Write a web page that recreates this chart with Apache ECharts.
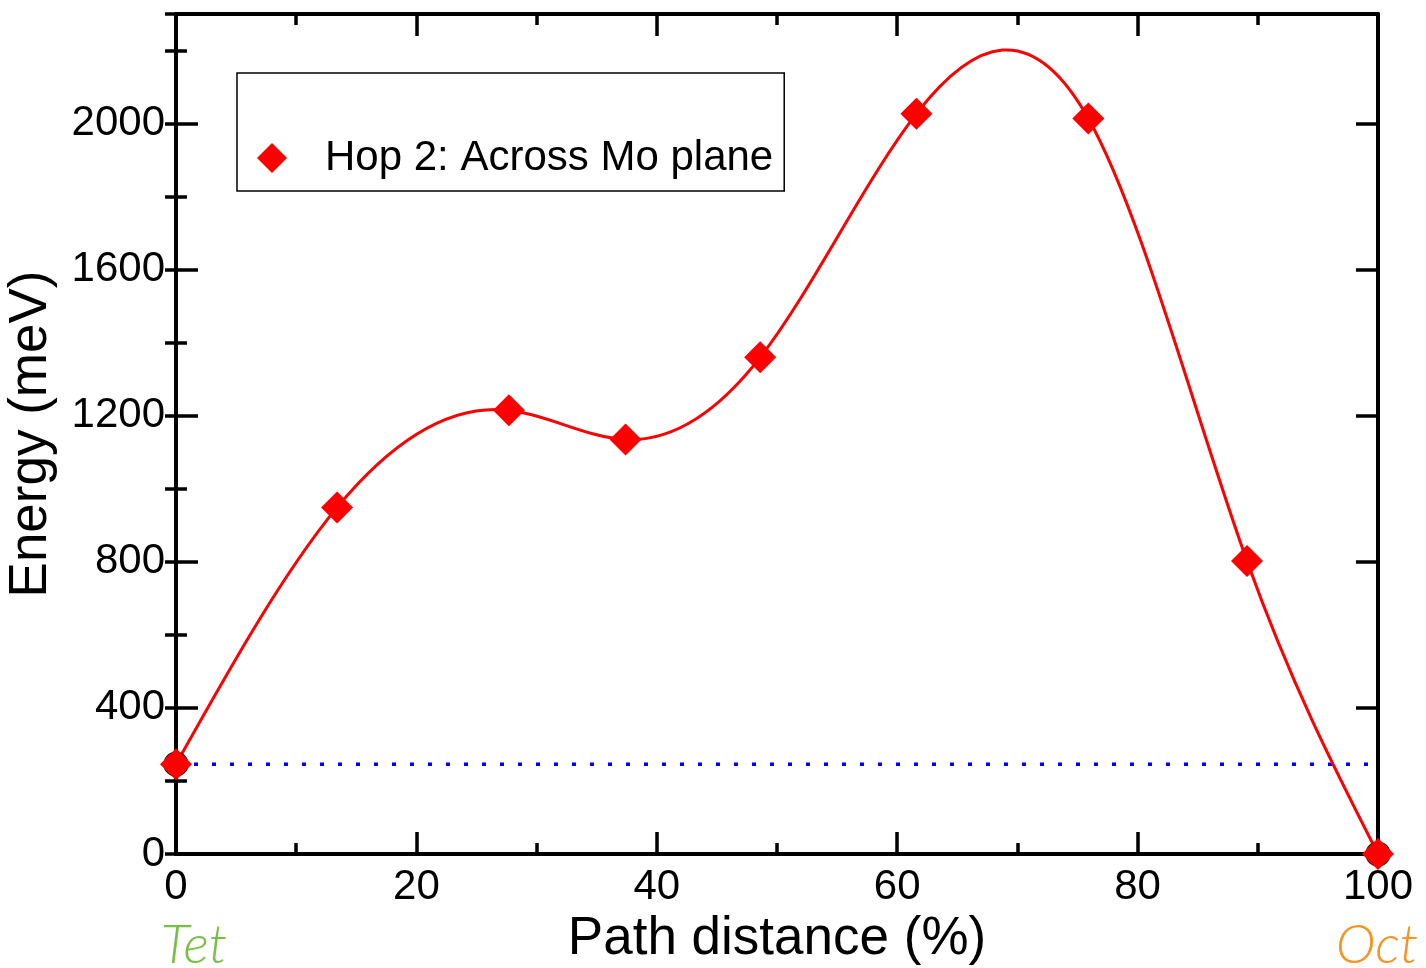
<!DOCTYPE html>
<html>
<head>
<meta charset="utf-8">
<script src="https://cdn.jsdelivr.net/npm/echarts@6/dist/echarts.min.js"></script>
<style>html,body{margin:0;padding:0;background:#fff;}#c{width:1426px;height:968px;}</style>
</head>
<body>
<div id="c"></div>
<script>
// ---- data ----
const pathDistance = [0, 13.4, 27.7, 37.4, 48.6, 61.6, 75.9, 89.1, 100];
const energy = [246, 949, 1215, 1135, 1360, 2027, 2014, 802, 0];
const referenceEnergy = 246;
const seriesName = 'Hop 2: Across Mo plane';
const xTitle = 'Path distance (%)';
const yTitle = 'Energy (meV)';
const startLabel = 'Tet';
const endLabel = 'Oct';

const FONT = '"Liberation Sans", Arial, Helvetica, sans-serif';

// natural cubic spline slopes (data space) -> bezier control points mapped through axes
function splineSlopes(xs, ys) {
  const n = xs.length;
  const h = [], a = [], b = [], c = [], d = [];
  for (let i = 0; i < n - 1; i++) h.push(xs[i + 1] - xs[i]);
  const M = new Array(n).fill(0);
  const m = n - 2;
  for (let i = 1; i <= m; i++) {
    a.push(h[i - 1]);
    b.push(2 * (h[i - 1] + h[i]));
    c.push(h[i]);
    d.push(6 * ((ys[i + 1] - ys[i]) / h[i] - (ys[i] - ys[i - 1]) / h[i - 1]));
  }
  for (let i = 1; i < m; i++) {
    const w = a[i] / b[i - 1];
    b[i] -= w * c[i - 1];
    d[i] -= w * d[i - 1];
  }
  const sol = new Array(m);
  for (let i = m - 1; i >= 0; i--) {
    sol[i] = (d[i] - (i < m - 1 ? c[i] * sol[i + 1] : 0)) / b[i];
  }
  for (let i = 0; i < m; i++) M[i + 1] = sol[i];
  const slopes = [];
  for (let i = 0; i < n - 1; i++) {
    slopes.push((ys[i + 1] - ys[i]) / h[i] - h[i] * (2 * M[i] + M[i + 1]) / 6);
  }
  const k = n - 2;
  slopes.push((ys[n - 1] - ys[k]) / h[k] + h[k] * (M[k] + 2 * M[n - 1]) / 6);
  return slopes;
}
const slopes = splineSlopes(pathDistance, energy);

const chart = echarts.init(document.getElementById('c'), null, {renderer: 'canvas'});

const axisLineStyle = {color: '#000', width: 4};
const tickStyle = {color: '#000', width: 3.5};
const baseX = {
  type: 'value', min: 0, max: 100, interval: 20,
  axisLine: {show: true, onZero: false, lineStyle: axisLineStyle},
  axisTick: {show: true, inside: true, length: 22, lineStyle: tickStyle},
  minorTick: {show: true, splitNumber: 2, length: 11, lineStyle: tickStyle},
  splitLine: {show: false}
};
const baseY = {
  type: 'value', min: 0, max: 2300, interval: 400,
  axisLine: {show: true, onZero: false, lineStyle: axisLineStyle},
  axisTick: {show: true, inside: true, length: 22, lineStyle: tickStyle},
  splitLine: {show: false}
};
const plain = v => String(v);

const option = {
  backgroundColor: '#fff',
  animation: false,
  grid: {left: 176, right: 48, top: 14, bottom: 114, containLabel: false, outerBoundsMode: 'none'},
  legend: {
    left: 237, top: 73,
    padding: [64, 11, 12, 20],
    itemWidth: 30, itemHeight: 30,
    borderColor: '#000', borderWidth: 1.5, borderRadius: 0,
    textStyle: {fontSize: 42, fontFamily: FONT, color: '#000', lineHeight: 30, padding: [0, 0, 0, 33]},
    data: [{name: seriesName, icon: 'diamond'}]
  },
  xAxis: [
    Object.assign({}, baseX, {
      position: 'bottom',
      name: xTitle, nameLocation: 'middle', nameGap: 44,
      nameTextStyle: {fontSize: 53, fontFamily: FONT, color: '#000'},
      axisLabel: {show: true, margin: 12, fontSize: 42, fontFamily: FONT, color: '#000', formatter: plain}
    }),
    Object.assign({}, baseX, {position: 'top', axisLabel: {show: false}})
  ],
  yAxis: [
    Object.assign({}, baseY, {
      position: 'left',
      name: yTitle, nameLocation: 'middle', nameGap: 118,
      nameTextStyle: {fontSize: 53, fontFamily: FONT, color: '#000'},
      axisLabel: {show: true, margin: 11, fontSize: 42, fontFamily: FONT, color: '#000', showMaxLabel: false, formatter: plain}
    }),
    Object.assign({}, baseY, {position: 'right', axisLabel: {show: false}}),
    Object.assign({}, baseY, {position: 'left', interval: 200, axisLine: {show: false},
      axisTick: {show: true, inside: true, length: 11, lineStyle: tickStyle}, axisLabel: {show: false}}),
    Object.assign({}, baseY, {position: 'right', interval: 200, axisLine: {show: false},
      axisTick: {show: true, inside: true, length: 11, lineStyle: tickStyle}, axisLabel: {show: false}})
  ],
  graphic: [
    {type: 'text', x: 194, y: 946, style: {text: startLabel, fill: '#78c043',
      font: 'italic 300 54px Lato, "Liberation Sans", sans-serif', textAlign: 'center', textVerticalAlign: 'middle'}},
    {type: 'text', x: 1377, y: 946, style: {text: endLabel, fill: '#f7931e',
      font: 'italic 300 54px Lato, "Liberation Sans", sans-serif', textAlign: 'center', textVerticalAlign: 'middle'}}
  ],
  series: [
    {
      type: 'line', xAxisIndex: 0, yAxisIndex: 0, symbol: 'none', silent: true,
      data: [[0, referenceEnergy], [100, referenceEnergy]],
      lineStyle: {color: '#0000ff', width: 3.5, type: [4, 14]}, z: 1
    },
    {
      type: 'custom', xAxisIndex: 0, yAxisIndex: 0, silent: true, clip: false, z: 2,
      data: [[0, 0]],
      renderItem: function (params, api) {
        let d = '';
        for (let i = 0; i < pathDistance.length; i++) {
          const p = api.coord([pathDistance[i], energy[i]]);
          if (i === 0) { d += 'M' + p[0] + ' ' + p[1]; continue; }
          const h = pathDistance[i] - pathDistance[i - 1];
          const c1 = api.coord([pathDistance[i - 1] + h / 3, energy[i - 1] + slopes[i - 1] * h / 3]);
          const c2 = api.coord([pathDistance[i] - h / 3, energy[i] - slopes[i] * h / 3]);
          d += ' C' + c1[0] + ' ' + c1[1] + ' ' + c2[0] + ' ' + c2[1] + ' ' + p[0] + ' ' + p[1];
        }
        return {type: 'path', shape: {pathData: d}, style: {stroke: '#ff0000', lineWidth: 3, fill: null}};
      }
    },
    {
      type: 'scatter', xAxisIndex: 0, yAxisIndex: 0, silent: true, clip: false, z: 3,
      symbol: 'circle', symbolSize: 24,
      data: [[pathDistance[0], energy[0]], [pathDistance[pathDistance.length - 1], energy[energy.length - 1]]],
      itemStyle: {color: '#ff0000', borderColor: '#222', borderWidth: 1.2, opacity: 1}
    },
    {
      name: seriesName,
      type: 'scatter', xAxisIndex: 0, yAxisIndex: 0, clip: false, z: 4,
      symbol: 'diamond', symbolSize: 32,
      data: pathDistance.map((x, i) => [x, energy[i]]),
      itemStyle: {color: '#ff0000', opacity: 1}
    }
  ]
};
chart.setOption(option);
</script>
</body>
</html>
